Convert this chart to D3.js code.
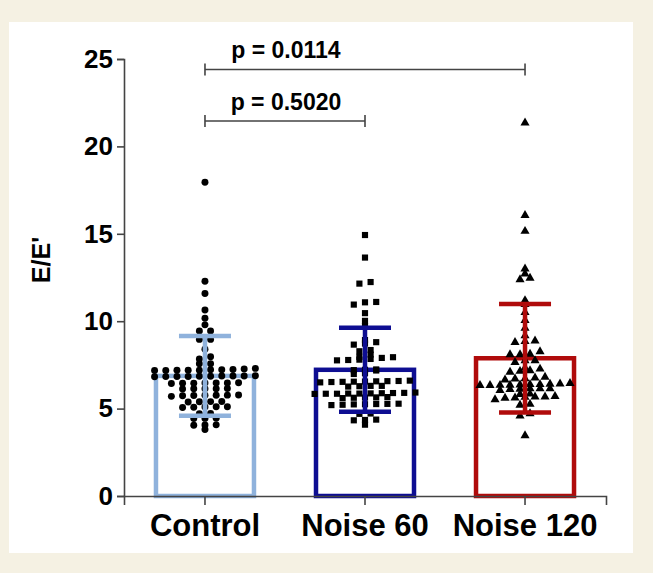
<!DOCTYPE html>
<html>
<head>
<meta charset="utf-8">
<script src="https://cdn.jsdelivr.net/npm/d3@7/dist/d3.min.js"></script>
<style>
  body { margin: 0; background: #f5f1e3; }
  text { font-family: "Liberation Sans", Arial, sans-serif; font-weight: bold; fill: #000; }
</style>
</head>
<body>
<div id="chart-area"></div>
<script>
// data
let groups = ["Control", "Noise 60", "Noise 120"];
let means = [6.87, 7.22, 7.88];
let sds = [2.28, 2.4, 3.1];
let yTicks = [0, 5, 10, 15, 20, 25];

let control = [17.95, 12.28, 11.58, 10.64, 10.17, 9.79, 9.44, 9.44, 8.96, 8.96, 8.4, 7.97, 7.84, 7.57, 7.57,
	7.26, 7.2, 7.22, 7.18, 7.2, 7.24, 7.2, 7.18, 7.22, 7.3,
	6.86, 6.84, 6.85, 6.88, 6.85, 6.82, 6.86, 6.84, 6.87, 6.83,
	6.47, 6.45, 6.46, 6.48, 6.44, 6.46, 6.45,
	6.14, 6.15, 6.13, 6.14, 6.12,
	5.78, 5.76, 5.75, 5.7, 5.77, 5.76, 5.74,
	5.4, 5.38, 5.39, 5.41,
	5.1, 5.08, 5.06, 5.1, 5.09,
	4.72, 4.7, 4.44, 4.43, 4.45, 4.06, 4.05, 4.07, 3.8];

let noise60 = [14.93, 13.64, 12.24, 12.15, 11.1, 11.08, 10.95, 10.46, 10.02, 9.72,
	8.92, 8.8, 8.72, 8.66, 8.35, 8.28,
	8.09, 7.96, 7.94, 7.9, 7.8, 7.78, 7.84, 7.76,
	7.22, 7.2, 7.18, 7.24, 7.02, 6.98,
	6.58, 6.55, 6.52, 6.6, 6.5, 6.56, 6.54, 6.57, 6.53,
	6.28, 6.3, 6.26, 6.3,
	5.86, 5.88, 5.85, 5.87, 5.9, 5.84, 5.86, 5.89, 5.85, 5.92,
	5.62, 5.64, 5.6, 5.66, 5.63,
	5.25, 5.22, 5.27, 5.24, 5.26, 5.2, 5.28,
	4.72, 4.7, 4.35, 4.33, 4.37, 4.08];

let noise120 = [21.35, 16.06, 15.15, 13.0, 12.71, 12.47, 12.38, 11.19, 10.96, 10.5, 10.05, 9.6,
	9.17, 8.88, 8.84, 8.79,
	8.26, 8.12, 8.09, 8.09,
	7.75, 7.75, 7.65,
	7.33, 7.27, 7.18, 7.14, 7.09,
	6.8, 6.76, 6.71, 6.65, 6.7,
	6.33, 6.35, 6.33, 6.38, 6.4, 6.36, 6.34, 6.38, 6.42, 6.45,
	6.05, 6.14, 6.14, 6.14, 6.1, 6.12,
	5.82, 5.84,
	5.52, 5.6, 5.67, 5.67, 5.62, 5.65, 5.7,
	5.25, 5.2, 4.72, 4.59, 3.46];

let pLabels = ["p = 0.0114", "p = 0.5020"];
let pPairs = [["Control", "Noise 120"], ["Control", "Noise 60"]];

let series = [control, noise60, noise120];
let colors = ["#8fb2dc", "#0e0e92", "#b00b0b"];
let shapes = [d3.symbolCircle, d3.symbolSquare, d3.symbolTriangle];
let shapeSize = [38, 38, 36];
let spacing = [11.2, 11.2, 10];

let W = 653, H = 573;
let svg = d3.select("#chart-area")
	.append("svg")
	.attr("width", W)
	.attr("height", H);

// white panel
svg.append("rect")
	.attr("x", 9).attr("y", 22)
	.attr("width", 624).attr("height", 531)
	.attr("fill", "#fff");

// Scales
let x = d3.scaleBand()
	.domain(groups)
	.range([124, 606])
	.paddingInner(0)
	.paddingOuter(0.006);

let y = d3.scaleLinear()
	.domain([0, 25])
	.range([496, 59]);

let cx = (g) => x(g) + x.bandwidth() / 2;
let barW = 98;

// GraphPad-like scatter: group values into rows, spread each row symmetrically
const swarm = (values, center, step) => {
	let sorted = values.slice().sort((a, b) => a - b);
	let rows = [];
	sorted.forEach((v) => {
		let row = rows[rows.length - 1];
		if (row && v - row[0] < 0.2) row.push(v);
		else rows.push([v]);
	});
	let pts = [];
	rows.forEach((row) => {
		row.forEach((v, i) => {
			pts.push({ v: v, px: center + (i - (row.length - 1) / 2) * step });
		});
	});
	return pts;
};

// Bars
groups.forEach((g, i) => {
	svg.append("rect")
		.attr("x", cx(g) - barW / 2)
		.attr("y", y(means[i]))
		.attr("width", barW)
		.attr("height", y(0) - y(means[i]))
		.attr("fill", "none")
		.attr("stroke", colors[i])
		.attr("stroke-width", 4.5);
});

// Points
groups.forEach((g, i) => {
	let pts = swarm(series[i], cx(g), spacing[i]);
	svg.append("g").selectAll("path")
		.data(pts)
		.enter()
		.append("path")
		.attr("d", d3.symbol().type(shapes[i]).size(shapeSize[i]))
		.attr("transform", (d) => "translate(" + d.px + "," + y(d.v) + ")")
		.attr("fill", "#000");
});

// Error bars (SD)
groups.forEach((g, i) => {
	let eb = svg.append("g")
		.attr("stroke", colors[i])
		.attr("stroke-width", 4.5);
	let top = y(means[i] + sds[i]), bot = y(means[i] - sds[i]);
	eb.append("line").attr("x1", cx(g)).attr("x2", cx(g)).attr("y1", top).attr("y2", bot);
	eb.append("line").attr("x1", cx(g) - 26).attr("x2", cx(g) + 26).attr("y1", top).attr("y2", top);
	eb.append("line").attr("x1", cx(g) - 26).attr("x2", cx(g) + 26).attr("y1", bot).attr("y2", bot);
});

// Y Axis
let yAxisCall = d3.axisLeft(y)
	.tickValues(yTicks)
	.tickSize(7)
	.tickPadding(4);
let yAxis = svg.append("g")
	.attr("transform", "translate(124,0)")
	.call(yAxisCall);
yAxis.attr("font-size", null);
yAxis.selectAll("text").style("font-size", "26px").style("font-family", "'Liberation Sans', Arial, sans-serif");

// X Axis
let xAxisCall = d3.axisBottom(x)
	.tickSize(9)
	.tickPadding(6);
let xAxis = svg.append("g")
	.attr("transform", "translate(0," + y(0) + ")")
	.call(xAxisCall);
xAxis.attr("font-size", null);
xAxis.selectAll("text").style("font-size", "31px").attr("dy", "0.8em").style("font-family", "'Liberation Sans', Arial, sans-serif");

svg.selectAll(".domain, .tick line")
	.attr("stroke", "#444")
	.attr("stroke-width", 1.6);

// Y label
svg.append("text")
	.attr("transform", "translate(50," + 260 + ") rotate(-90)")
	.attr("text-anchor", "middle")
	.attr("font-size", "25px")
	.text("E/E'");

// Significance brackets
let levels = [24.4, 21.45];
pPairs.forEach((pair, i) => {
	let x1 = cx(pair[0]), x2 = cx(pair[1]), yy = y(levels[i]);
	let br = svg.append("g").attr("stroke", "#444").attr("stroke-width", 1.6).attr("fill", "none");
	br.append("path")
		.attr("d", "M" + x1 + "," + (yy - 6) + "V" + (yy + 6) + "M" + x1 + "," + yy + "H" + x2 + "M" + x2 + "," + (yy - 6) + "V" + (yy + 6));
	svg.append("text")
		.attr("x", (cx(groups[0]) + cx(groups[1])) / 2 + 1)
		.attr("y", yy - 11)
		.attr("text-anchor", "middle")
		.attr("font-size", "23px")
		.text(pLabels[i]);
});
</script>
</body>
</html>
